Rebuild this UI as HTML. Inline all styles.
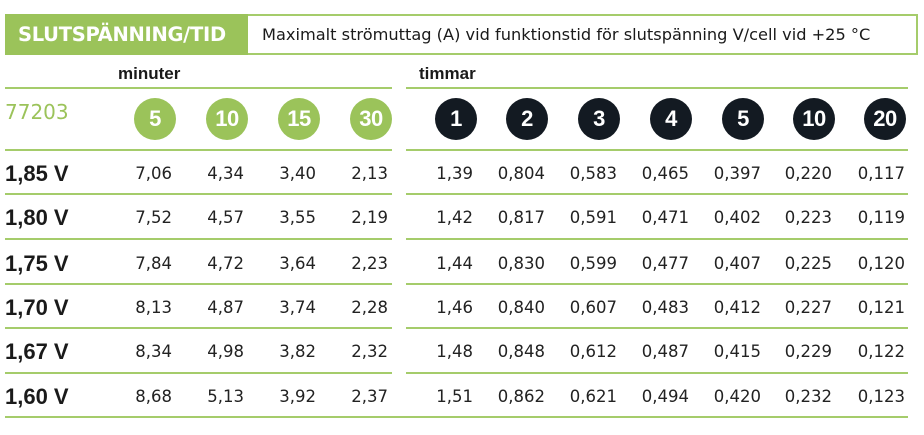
<!DOCTYPE html>
<html><head><meta charset="utf-8"><style>
body{margin:0;width:924px;height:435px;background:#fff;position:relative;overflow:hidden;font-family:"DejaVu Sans","Liberation Sans",sans-serif;color:#1a1a1a}
.a{position:absolute}
.hl{position:absolute;height:2px;background:#a5cc6b}
.c{position:absolute;width:42px;height:42px;border-radius:50%;color:#fff;font-weight:bold;font-size:22px;font-family:"Liberation Sans",sans-serif;text-align:center;line-height:42px;top:98px;letter-spacing:-0.5px}
.g{background:#9bc35a}.k{background:#131a22}
.v{position:absolute;font-size:16.5px;text-align:right;width:80px;line-height:20px;color:#222}
.l{position:absolute;left:5px;font-size:22px;font-weight:bold;line-height:24px;font-family:"Liberation Sans",sans-serif}
</style></head><body>
<div class="a" style="left:5px;top:14px;width:243px;height:41px;background:#9bc35a;color:#fff;font-weight:bold;font-size:19.5px;line-height:41px;padding-left:13px;box-sizing:border-box;letter-spacing:-0.3px">SLUTSPÄNNING/TID</div>
<div class="a" style="left:248px;top:14px;width:670px;height:41px;border:2px solid #a5cc6b;border-left:none;box-sizing:border-box;font-size:16.2px;line-height:37px;padding-left:14px">Maximalt strömuttag (A) vid funktionstid för slutspänning V/cell vid +25 °C</div>
<div class="a" style="left:118px;top:64px;font-size:17px;font-weight:bold;font-family:'Liberation Sans',sans-serif">minuter</div>
<div class="a" style="left:419px;top:64px;font-size:17px;font-weight:bold;font-family:'Liberation Sans',sans-serif">timmar</div>
<div class="hl" style="left:5px;width:387px;top:87px"></div>
<div class="hl" style="left:406px;width:502px;top:87px"></div>
<div class="a" style="left:5px;top:100px;font-size:20px;color:#9bc35a">77203</div>
<div class="c g" style="left:134px">5</div><div class="c g" style="left:206px">10</div><div class="c g" style="left:278px">15</div><div class="c g" style="left:350px">30</div>
<div class="c k" style="left:435px">1</div><div class="c k" style="left:506px">2</div><div class="c k" style="left:578px">3</div><div class="c k" style="left:650px">4</div><div class="c k" style="left:722px">5</div><div class="c k" style="left:793px">10</div><div class="c k" style="left:864px">20</div>
<div class="hl" style="left:5px;width:387px;top:149px"></div>
<div class="hl" style="left:406px;width:502px;top:149px"></div>
<div class="hl" style="left:5px;width:387px;top:193px"></div><div class="hl" style="left:406px;width:502px;top:193px"></div>
<div class="hl" style="left:5px;width:387px;top:238px"></div><div class="hl" style="left:406px;width:502px;top:238px"></div>
<div class="hl" style="left:5px;width:387px;top:283px"></div><div class="hl" style="left:406px;width:502px;top:283px"></div>
<div class="hl" style="left:5px;width:387px;top:327px"></div><div class="hl" style="left:406px;width:502px;top:327px"></div>
<div class="hl" style="left:5px;width:387px;top:372px"></div><div class="hl" style="left:406px;width:502px;top:372px"></div>
<div class="hl" style="left:5px;width:903px;top:416px"></div>

<div class="l" style="top:162px">1,85 V</div>
<div class="v" style="top:164px;left:92px">7,06</div><div class="v" style="top:164px;left:164px">4,34</div><div class="v" style="top:164px;left:236px">3,40</div><div class="v" style="top:164px;left:308px">2,13</div><div class="v" style="top:164px;left:393px">1,39</div><div class="v" style="top:164px;left:465px">0,804</div><div class="v" style="top:164px;left:537px">0,583</div><div class="v" style="top:164px;left:609px">0,465</div><div class="v" style="top:164px;left:681px">0,397</div><div class="v" style="top:164px;left:752px">0,220</div><div class="v" style="top:164px;left:825px">0,117</div>

<div class="l" style="top:206px">1,80 V</div>
<div class="v" style="top:208px;left:92px">7,52</div><div class="v" style="top:208px;left:164px">4,57</div><div class="v" style="top:208px;left:236px">3,55</div><div class="v" style="top:208px;left:308px">2,19</div><div class="v" style="top:208px;left:393px">1,42</div><div class="v" style="top:208px;left:465px">0,817</div><div class="v" style="top:208px;left:537px">0,591</div><div class="v" style="top:208px;left:609px">0,471</div><div class="v" style="top:208px;left:681px">0,402</div><div class="v" style="top:208px;left:752px">0,223</div><div class="v" style="top:208px;left:825px">0,119</div>

<div class="l" style="top:252px">1,75 V</div>
<div class="v" style="top:254px;left:92px">7,84</div><div class="v" style="top:254px;left:164px">4,72</div><div class="v" style="top:254px;left:236px">3,64</div><div class="v" style="top:254px;left:308px">2,23</div><div class="v" style="top:254px;left:393px">1,44</div><div class="v" style="top:254px;left:465px">0,830</div><div class="v" style="top:254px;left:537px">0,599</div><div class="v" style="top:254px;left:609px">0,477</div><div class="v" style="top:254px;left:681px">0,407</div><div class="v" style="top:254px;left:752px">0,225</div><div class="v" style="top:254px;left:825px">0,120</div>

<div class="l" style="top:296px">1,70 V</div>
<div class="v" style="top:298px;left:92px">8,13</div><div class="v" style="top:298px;left:164px">4,87</div><div class="v" style="top:298px;left:236px">3,74</div><div class="v" style="top:298px;left:308px">2,28</div><div class="v" style="top:298px;left:393px">1,46</div><div class="v" style="top:298px;left:465px">0,840</div><div class="v" style="top:298px;left:537px">0,607</div><div class="v" style="top:298px;left:609px">0,483</div><div class="v" style="top:298px;left:681px">0,412</div><div class="v" style="top:298px;left:752px">0,227</div><div class="v" style="top:298px;left:825px">0,121</div>

<div class="l" style="top:340px">1,67 V</div>
<div class="v" style="top:342px;left:92px">8,34</div><div class="v" style="top:342px;left:164px">4,98</div><div class="v" style="top:342px;left:236px">3,82</div><div class="v" style="top:342px;left:308px">2,32</div><div class="v" style="top:342px;left:393px">1,48</div><div class="v" style="top:342px;left:465px">0,848</div><div class="v" style="top:342px;left:537px">0,612</div><div class="v" style="top:342px;left:609px">0,487</div><div class="v" style="top:342px;left:681px">0,415</div><div class="v" style="top:342px;left:752px">0,229</div><div class="v" style="top:342px;left:825px">0,122</div>

<div class="l" style="top:385px">1,60 V</div>
<div class="v" style="top:387px;left:92px">8,68</div><div class="v" style="top:387px;left:164px">5,13</div><div class="v" style="top:387px;left:236px">3,92</div><div class="v" style="top:387px;left:308px">2,37</div><div class="v" style="top:387px;left:393px">1,51</div><div class="v" style="top:387px;left:465px">0,862</div><div class="v" style="top:387px;left:537px">0,621</div><div class="v" style="top:387px;left:609px">0,494</div><div class="v" style="top:387px;left:681px">0,420</div><div class="v" style="top:387px;left:752px">0,232</div><div class="v" style="top:387px;left:825px">0,123</div>
</body></html>
